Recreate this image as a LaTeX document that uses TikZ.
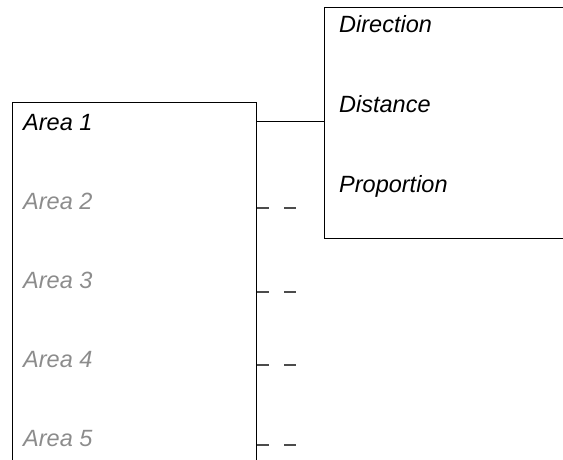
\documentclass[tikz,border=0pt]{standalone}
\usepackage{fontspec}
\setmainfont{Liberation Sans}
\tikzset{
  box/.style={draw, line width=1.1pt, inner sep=0pt, anchor=north west},
  label/.style={anchor=base west, inner sep=0pt, font=\fontsize{23.5}{28}\selectfont\itshape},
  faint/.style={label, text=black!45},
  stub/.style={line width=1.3pt, black!70, dash pattern=on 12pt off 15pt}
}
\begin{document}
\begin{tikzpicture}[x=1pt, y=-1pt]
        % 画布范围
        \path[use as bounding box, clip] (0,0) rectangle (563,459);

        % 两个框
        \node[box, minimum width=244pt, minimum height=400pt] (box1) at (12,101.5) {};
        \node[box, minimum width=280pt, minimum height=231pt] (box2) at (324,7) {};

        % 右框文字
        \node[label] (dir) at (339,32) {Direction};
        \node[label] (dist) at (339,112) {Distance};
        \node[label] (prop) at (339,192) {Proportion};

        % 左框文字
        \node[label] (a1) at (23,130) {Area 1};
        \node[faint] (a2) at (23,209) {Area 2};
        \node[faint] (a3) at (23,288) {Area 3};
        \node[faint] (a4) at (23,367) {Area 4};
        \node[faint] (a5) at (23,446) {Area 5};

        % 实线连接
        \coordinate (c1) at (0,121);
        \draw[line width=1pt] (box1.east |- c1) -- (box2.west |- c1);

        % 虚线短线
        \foreach \y in {208, 292, 365, 445}
            \draw[stub] (box1.east |- 0,\y) -- ++(40,0);
    \end{tikzpicture}
\end{document}
